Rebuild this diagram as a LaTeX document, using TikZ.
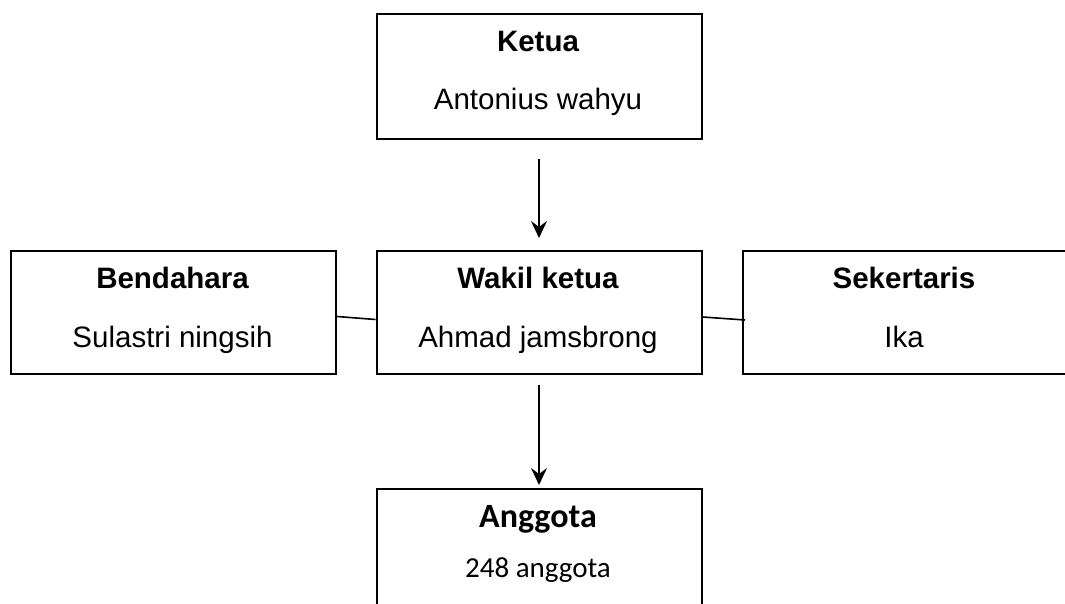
\documentclass[tikz,border=0pt]{standalone}
\usepackage{fontspec}
\setmainfont{Liberation Sans}
\newfontfamily\carlito{Carlito}
\usetikzlibrary{arrows.meta}
\begin{document}
\begin{tikzpicture}[x=1pt,y=-1pt,
 box/.style={draw, line width=2pt, minimum width=325pt, minimum height=123pt, inner sep=0pt, anchor=north west},
 ttl/.style={font=\fontsize{29.5}{32}\selectfont\bfseries, anchor=base},
 nm/.style={font=\fontsize{29.5}{32}\selectfont, anchor=base},
 cttl/.style={font=\carlito\fontsize{34}{36}\selectfont\bfseries, anchor=base},
 cnm/.style={font=\carlito\fontsize{29}{31}\selectfont, anchor=base},
 arr/.style={line width=1.6pt, -{Stealth[length=17pt,width=16pt,inset=6pt]}},
 link/.style={line width=1.6pt}]
\useasboundingbox (0,0) rectangle (1065,604);
\fill[white] (0,0) rectangle (1065,604);
\node[box, minimum height=125.5pt] (ketua) at (375.5,12.7) {};
\node[box] (bend) at (10,250) {};
\node[box] (wakil) at (375.5,250) {};
\node[box] (sek) at (742,250) {};
\node[box] (angg) at (375.5,488) {};
\node[ttl] (kt) at (538,52) {Ketua};
\node[nm] (kn) at (538,110) {Antonius wahyu};
\node[ttl] (bt) at (172.5,288) {Bendahara};
\node[nm] (bn) at (172.5,347.5) {Sulastri ningsih};
\node[ttl] (wt) at (538,288) {Wakil ketua};
\node[nm] (wn) at (538,347.5) {Ahmad jamsbrong};
\node[ttl] (st) at (904,288) {Sekertaris};
\node[nm] (sn) at (904,347.5) {Ika};
\node[cttl] (at) at (538,527) {Anggota};
\node[cnm] (an) at (538,577) {248 anggota};
\draw[arr] ([yshift=-19pt]ketua.south) -- ([yshift=12pt]wakil.north);
\draw[arr] ([yshift=-10pt]wakil.south) -- ([yshift=3pt]angg.north);
\draw[link] ([yshift=-4pt]bend.east) -- ([yshift=-7pt]wakil.west);
\draw[link] ([yshift=-4.5pt]wakil.east) -- ([xshift=3pt,yshift=-7.5pt]sek.west);
\end{tikzpicture}
\end{document}
